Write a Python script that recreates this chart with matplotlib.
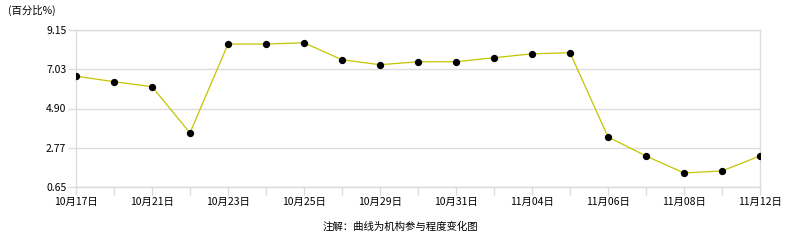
import matplotlib

matplotlib.use("Agg")
import matplotlib.pyplot as plt

plt.rcParams["font.family"] = ["Noto Sans CJK SC", "DejaVu Sans"]

dates = [
    "10月17日", "10月20日", "10月21日", "10月22日", "10月23日", "10月24日",
    "10月25日", "10月28日", "10月29日", "10月30日", "10月31日", "11月01日",
    "11月04日", "11月05日", "11月06日", "11月07日", "11月08日", "11月11日",
    "11月12日",
]
values = [
    6.65, 6.35, 6.08, 3.58, 8.39, 8.39, 8.46, 7.54, 7.27, 7.43,
    7.43, 7.65, 7.86, 7.92, 3.36, 2.33, 1.41, 1.52, 2.33,
]
y_ticks = [0.65, 2.77, 4.90, 7.03, 9.15]

grid_color = "#dcdcdc"

fig = plt.figure(figsize=(7.86, 2.4), dpi=100)
ax = fig.add_axes([76 / 786, 1 - 187 / 240, (760 - 76) / 786, (187 - 30) / 240])

x = list(range(len(values)))
ax.plot(x, values, color="#c4c400", linewidth=0.9, zorder=3)
ax.scatter(x, values, s=18, color="black", zorder=4)

ax.set_xlim(0, len(values) - 1)
ax.set_ylim(y_ticks[0], y_ticks[-1])
ax.set_yticks(y_ticks)
ax.set_yticklabels([f"{v:.2f}" for v in y_ticks], fontsize=7.5)
ax.set_xticks(x)
ax.set_xticklabels([d if i % 2 == 0 else "" for i, d in enumerate(dates)], fontsize=7.5)
ax.grid(axis="y", color=grid_color, linewidth=1)
ax.tick_params(axis="both", color=grid_color, length=5.5, width=1, pad=1.5)

for s in ax.spines.values():
    s.set_color(grid_color)
    s.set_linewidth(1)

fig.text(8 / 786, 1 - 10 / 240, "(百分比%)", fontsize=7.5, ha="left", va="center")
fig.text(400 / 786, 1 - 227 / 240, "注解：曲线为机构参与程度变化图", fontsize=7.5,
         ha="center", va="center")

fig.savefig("out.png", dpi=100, facecolor="white")
